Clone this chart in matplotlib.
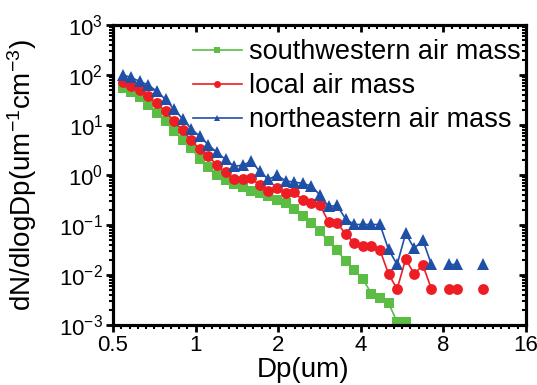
import numpy as np
import matplotlib
matplotlib.use("Agg")
import matplotlib.pyplot as plt
from matplotlib.lines import Line2D
from matplotlib.ticker import FixedLocator, FixedFormatter, LogLocator, NullFormatter

plt.rcParams['font.family'] = ['Liberation Sans', 'DejaVu Sans']
plt.rcParams['mathtext.default'] = 'regular'

# Particle diameter (um), APS channel midpoints
dp = [0.542, 0.583, 0.626, 0.673, 0.723, 0.777, 0.835, 0.898, 0.965, 1.037,
      1.114, 1.197, 1.286, 1.382, 1.486, 1.596, 1.715, 1.843, 1.981, 2.129,
      2.288, 2.458, 2.642, 2.839, 3.051, 3.278, 3.523, 3.786, 4.068, 4.371,
      4.698, 5.048, 5.425, 5.829, 6.264, 6.732, 7.234, 7.774, 8.354, 8.977,
      9.647, 10.37, 11.14]

nan = np.nan
# log10 of dN/dlogDp
log_southwestern = [1.73, 1.65, 1.55, 1.40, 1.23, 1.07, 0.88, 0.70, 0.53, 0.32,
                    0.15, 0.00, -0.10, -0.18, -0.25, -0.32, -0.37, -0.43, -0.51, -0.57,
                    -0.69, -0.82, -0.97, -1.12, -1.33, -1.51, -1.72, -1.90, -2.08, -2.37,
                    -2.45, -2.56, -2.94, -2.94, nan, nan, nan, nan, nan, nan,
                    nan, nan, nan]
log_local = [1.85, 1.78, 1.69, 1.57, 1.43, 1.27, 1.08, 0.89, 0.69, 0.51,
             0.37, 0.20, 0.05, -0.09, -0.09, -0.07, -0.20, -0.33, -0.27, -0.36,
             -0.35, -0.50, -0.57, -0.60, -0.94, -0.96, -1.18, -1.36, -1.43, -1.43,
             -1.50, -1.98, -2.28, -1.68, -1.98, -1.80, -2.28, nan, -2.28, -2.28,
             nan, nan, -2.28]
log_northeastern = [2.00, 1.95, 1.87, 1.80, 1.67, 1.51, 1.31, 1.12, 0.92, 0.77,
                    0.60, 0.45, 0.31, 0.17, 0.20, 0.27, 0.07, -0.09, 0.00, -0.12,
                    -0.14, -0.17, -0.22, -0.40, -0.63, -0.61, -0.88, -0.99, -0.99, -0.99,
                    -0.99, -1.49, -1.79, -1.17, -1.47, -1.30, -1.79, nan, -1.79, -1.79,
                    nan, nan, -1.79]

labels = ['southwestern air mass', 'local air mass', 'northeastern air mass']
x_ticks = [0.5, 1, 2, 4, 8, 16]
x_ticklabels = ['0.5', '1', '2', '4', '8', '16']

green = '#5CBD45'
red = '#EE1D24'
blue = '#1F50A6'

fig = plt.figure(figsize=(5.37, 3.85), dpi=100)
ax = fig.add_axes([113/537, 1-325/385, (526-113)/537, 300/385])

series = [(log_southwestern, green, 's', 7.0),
          (log_local, red, 'o', 7.8),
          (log_northeastern, blue, '^', 8.0)]
for vals, c, m, ms in series:
    y = 10.0 ** np.array(vals)
    ax.plot(dp, y, color=c, marker=m, markersize=ms, linewidth=1.2,
            markeredgewidth=0, clip_on=True)

ax.set_xscale('log', base=2)
ax.set_yscale('log')
ax.set_xlim(0.5, 16)
ax.set_ylim(1e-3, 1e3)

minor_x = [2.0 ** (k + j / 10) for k in range(-1, 4) for j in range(1, 10)]
ax.xaxis.set_major_locator(FixedLocator(x_ticks))
ax.xaxis.set_major_formatter(FixedFormatter(x_ticklabels))
ax.xaxis.set_minor_locator(FixedLocator(minor_x))
ax.xaxis.set_minor_formatter(NullFormatter())
ax.yaxis.set_major_locator(LogLocator(base=10, numticks=10))
ax.yaxis.set_minor_locator(LogLocator(base=10, subs=np.arange(2, 10), numticks=20))
ax.yaxis.set_minor_formatter(NullFormatter())

for s in ax.spines.values():
    s.set_linewidth(2.2)
ax.tick_params(which='major', direction='out', length=5, width=2, labelsize=16, pad=2)
ax.tick_params(which='minor', direction='out', length=3, width=1.5)

# mirrored ticks (inward) on top and right
axt = ax.twiny()
axt.set_xscale('log', base=2)
axt.set_xlim(0.5, 16)
axt.xaxis.set_major_locator(FixedLocator(x_ticks))
axt.xaxis.set_minor_locator(FixedLocator(minor_x))
axt.xaxis.set_major_formatter(NullFormatter())
axt.xaxis.set_minor_formatter(NullFormatter())
axt.tick_params(which='major', direction='in', length=5, width=2, labeltop=False)
axt.tick_params(which='minor', direction='in', length=3, width=1.5)
axr = ax.twinx()
axr.set_yscale('log')
axr.set_ylim(1e-3, 1e3)
axr.yaxis.set_major_locator(LogLocator(base=10, numticks=10))
axr.yaxis.set_minor_locator(LogLocator(base=10, subs=np.arange(2, 10), numticks=20))
axr.yaxis.set_major_formatter(NullFormatter())
axr.yaxis.set_minor_formatter(NullFormatter())
axr.tick_params(which='major', direction='in', length=5, width=2, labelright=False)
axr.tick_params(which='minor', direction='in', length=3, width=1.5)
for a in (axt, axr):
    for s in a.spines.values():
        s.set_linewidth(2.2)

ax.set_xlabel('Dp(um)', fontsize=20)
ax.xaxis.set_label_coords((303-113)/413, -0.108)
ax.set_ylabel('dN/dlogDp(um$^{-1}$cm$^{-3}$)', fontsize=20)
ax.yaxis.set_label_coords(-0.18, 0.5)

handles = [Line2D([], [], color=c, marker=m, markersize=5, linewidth=1.2, markeredgewidth=0)
           for _, c, m, _ in series]
leg = ax.legend(handles, labels, loc='upper left', bbox_to_anchor=(193/537, 1-39/385),
                bbox_transform=fig.transFigure, frameon=False, fontsize=19.5,
                borderpad=0, borderaxespad=0, handlelength=1.8, handletextpad=0.25,
                labelspacing=0.3)

fig.savefig('out.png', dpi=100)
